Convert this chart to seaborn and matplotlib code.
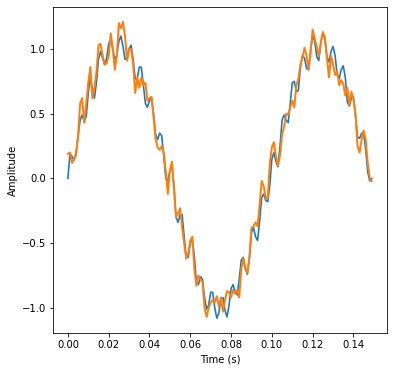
import numpy as np
import matplotlib
matplotlib.use("Agg")
import matplotlib.pyplot as plt
import seaborn as sns

# sample times (1 ms sampling, 150 samples)
time_s = np.linspace(0.0, 0.149, 150)

# clean signal (blue)
clean = [
    0.00, 0.19, 0.17, 0.14, 0.20, 0.33, 0.45, 0.49, 0.44, 0.48,
    0.66, 0.77, 0.70, 0.62, 0.74, 0.92, 0.98, 0.93, 0.88, 0.93,
    1.04, 1.08, 1.00, 0.92, 0.95, 1.06, 1.10, 1.02, 0.92, 0.93,
    1.00, 1.03, 0.92, 0.77, 0.77, 0.86, 0.86, 0.72, 0.58, 0.55,
    0.60, 0.62, 0.50, 0.34, 0.30, 0.35, 0.33, 0.17, 0.00, -0.02,
    0.06, 0.10, -0.05, -0.30, -0.34, -0.28, -0.28, -0.45, -0.60, -0.61,
    -0.50, -0.47, -0.60, -0.80, -0.82, -0.76, -0.78, -0.92, -1.01, -0.98,
    -0.88, -0.88, -1.00, -1.08, -1.04, -0.93, -0.92, -1.02, -1.07, -0.98,
    -0.85, -0.82, -0.88, -0.90, -0.78, -0.63, -0.61, -0.70, -0.74, -0.62,
    -0.42, -0.38, -0.45, -0.48, -0.33, -0.15, -0.12, -0.17, -0.18, -0.05,
    0.15, 0.20, 0.13, 0.09, 0.25, 0.45, 0.49, 0.45, 0.43, 0.58,
    0.74, 0.75, 0.67, 0.68, 0.86, 0.95, 0.93, 0.85, 0.84, 1.00,
    1.10, 1.06, 0.94, 0.91, 1.05, 1.13, 1.07, 0.94, 0.90, 0.98,
    1.02, 0.95, 0.80, 0.77, 0.84, 0.87, 0.78, 0.59, 0.56, 0.62,
    0.63, 0.48, 0.32, 0.31, 0.35, 0.35, 0.22, 0.05, -0.02, 0.00,
]

# noisy signal (orange)
noisy = [
    0.19, 0.20, 0.12, 0.15, 0.18, 0.33, 0.58, 0.62, 0.43, 0.58,
    0.74, 0.86, 0.62, 0.70, 0.82, 1.03, 1.04, 0.95, 0.88, 0.89,
    0.95, 1.12, 1.00, 0.84, 0.95, 1.20, 1.16, 1.21, 1.10, 0.91,
    1.00, 1.00, 0.88, 0.66, 0.78, 0.70, 0.78, 0.72, 0.74, 0.60,
    0.62, 0.63, 0.47, 0.30, 0.24, 0.22, 0.25, 0.20, 0.05, -0.12,
    0.06, 0.13, -0.08, -0.30, -0.27, -0.23, -0.38, -0.50, -0.62, -0.58,
    -0.48, -0.45, -0.70, -0.83, -0.75, -0.78, -0.80, -1.00, -1.07, -1.00,
    -0.96, -0.94, -0.96, -0.91, -0.99, -0.92, -1.03, -0.94, -0.87, -0.88,
    -0.92, -0.86, -0.89, -0.86, -0.92, -0.70, -0.62, -0.69, -0.73, -0.60,
    -0.38, -0.37, -0.34, -0.37, -0.20, -0.02, -0.06, -0.15, -0.15, 0.12,
    0.24, 0.28, 0.17, 0.10, 0.18, 0.34, 0.40, 0.50, 0.49, 0.55,
    0.60, 0.55, 0.72, 0.77, 0.88, 0.93, 1.01, 0.95, 0.84, 0.97,
    1.15, 1.08, 1.02, 0.94, 1.05, 1.13, 1.09, 0.93, 0.78, 0.95,
    0.88, 0.80, 0.83, 0.72, 0.76, 0.73, 0.64, 0.70, 0.57, 0.67,
    0.61, 0.50, 0.25, 0.20, 0.30, 0.37, 0.30, 0.12, 0.00, -0.02,
]

DPI = 72
fig = plt.figure(figsize=(394 / DPI, 371 / DPI), dpi=DPI)
ax = fig.add_axes([52.7 / 394, 1 - 333 / 371, (387 - 52.7) / 394, (333 - 7) / 371])

sns.lineplot(x=time_s, y=clean, ax=ax, color="C0", linewidth=1.6)
sns.lineplot(x=time_s, y=noisy, ax=ax, color="C1", linewidth=2.0)

ax.set_xlabel("Time (s)")
ax.set_ylabel("Amplitude")
ax.set_xticks([0.00, 0.02, 0.04, 0.06, 0.08, 0.10, 0.12, 0.14])
ax.set_xticklabels(["0.00", "0.02", "0.04", "0.06", "0.08", "0.10", "0.12", "0.14"])
ax.set_yticks([-1.0, -0.5, 0.0, 0.5, 1.0])
ax.set_yticklabels(["\u22121.0", "\u22120.5", "0.0", "0.5", "1.0"])

fig.savefig("out.png", dpi=DPI)
